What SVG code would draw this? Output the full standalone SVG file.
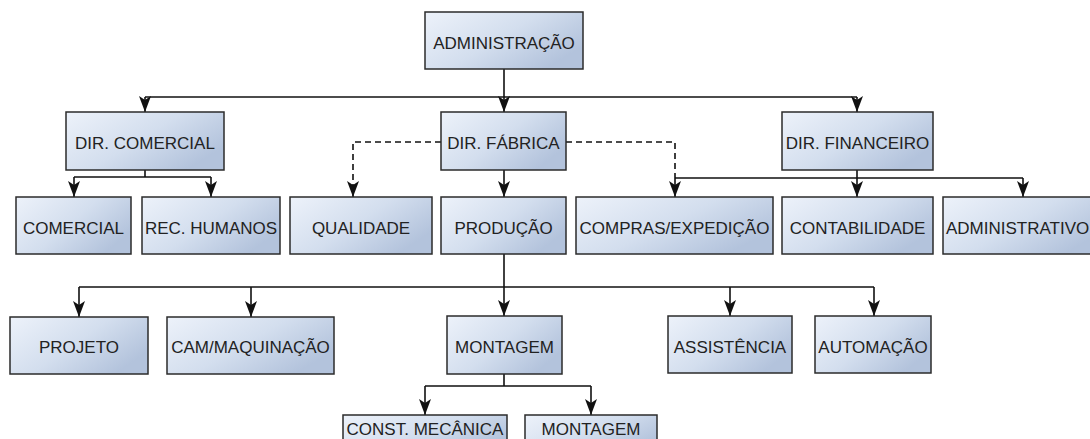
<svg xmlns="http://www.w3.org/2000/svg" width="1090" height="439" viewBox="0 0 1090 439">
  <defs>
    <linearGradient id="boxFill" x1="0" y1="0" x2="1" y2="0.6">
      <stop offset="0" stop-color="#edf2fa"/>
      <stop offset="0.55" stop-color="#d3deee"/>
      <stop offset="1" stop-color="#b3c3dc"/>
    </linearGradient>
    <marker id="arrow" viewBox="0 0 16 12" refX="16" refY="6" markerWidth="16" markerHeight="12" markerUnits="userSpaceOnUse" orient="auto">
      <path d="M0,0 L16,6 L0,12 L4,6 Z" fill="#111"/>
    </marker>
    <style>
      .box { fill: url(#boxFill); stroke: #2b2b2b; stroke-width: 1.5; }
      .lbl { font-family: "Liberation Sans", Arial, sans-serif; font-size: 17px; fill: #222; text-anchor: middle; }
      .edge { fill: none; stroke: #111; stroke-width: 1.6; }
      .dash { stroke-dasharray: 6 4; }
    </style>
  </defs>

  <rect width="1090" height="439" fill="#ffffff"/>

  <!-- connectors -->
  <g id="connectors">
    <!-- Administração to directors -->
    <path class="edge" d="M504,69 V112" marker-end="url(#arrow)"/>
    <path class="edge" d="M145,97 H857"/>
    <path class="edge" d="M145,97 V112" marker-end="url(#arrow)"/>
    <path class="edge" d="M857,97 V112" marker-end="url(#arrow)"/>

    <!-- Dir. Comercial -->
    <path class="edge" d="M145,170 V177 M74,177 H211"/>
    <path class="edge" d="M74,177 V197" marker-end="url(#arrow)"/>
    <path class="edge" d="M211,177 V197" marker-end="url(#arrow)"/>

    <!-- Dir. Fábrica -->
    <path class="edge" d="M504,170 V197" marker-end="url(#arrow)"/>
    <path class="edge dash" d="M441,142 H353 V197" marker-end="url(#arrow)"/>
    <path class="edge dash" d="M566,142 H675 V178"/>

    <!-- Dir. Financeiro -->
    <path class="edge" d="M857,170 V178 M675,178 H1023"/>
    <path class="edge" d="M675,178 V197" marker-end="url(#arrow)"/>
    <path class="edge" d="M857,178 V197" marker-end="url(#arrow)"/>
    <path class="edge" d="M1023,178 V197" marker-end="url(#arrow)"/>

    <!-- Produção -->
    <path class="edge" d="M504,254 V316" marker-end="url(#arrow)"/>
    <path class="edge" d="M79,287 H874"/>
    <path class="edge" d="M79,287 V317" marker-end="url(#arrow)"/>
    <path class="edge" d="M251,287 V317" marker-end="url(#arrow)"/>
    <path class="edge" d="M730,287 V316" marker-end="url(#arrow)"/>
    <path class="edge" d="M874,287 V316" marker-end="url(#arrow)"/>

    <!-- Montagem -->
    <path class="edge" d="M504,374 V386 M425,386 H591"/>
    <path class="edge" d="M425,386 V415" marker-end="url(#arrow)"/>
    <path class="edge" d="M591,386 V415" marker-end="url(#arrow)"/>
  </g>

  <!-- nodes -->
  <g id="administracao"><rect class="box" x="425" y="12" width="158" height="57"/><text class="lbl" x="504" y="48.5">ADMINISTRAÇÃO</text></g>

  <g id="dir-comercial"><rect class="box" x="66" y="112" width="158" height="58"/><text class="lbl" x="145" y="148.5">DIR. COMERCIAL</text></g>
  <g id="dir-fabrica"><rect class="box" x="441" y="112" width="125" height="58"/><text class="lbl" x="503.5" y="148.5">DIR. FÁBRICA</text></g>
  <g id="dir-financeiro"><rect class="box" x="782" y="112" width="151" height="58"/><text class="lbl" x="857.5" y="148.5">DIR. FINANCEIRO</text></g>

  <g id="comercial"><rect class="box" x="16" y="197" width="115" height="57"/><text class="lbl" x="73.5" y="233.5">COMERCIAL</text></g>
  <g id="rec-humanos"><rect class="box" x="142" y="197" width="138" height="57"/><text class="lbl" x="211" y="233.5">REC. HUMANOS</text></g>
  <g id="qualidade"><rect class="box" x="290" y="197" width="142" height="57"/><text class="lbl" x="361" y="233.5">QUALIDADE</text></g>
  <g id="producao"><rect class="box" x="441" y="197" width="125" height="57"/><text class="lbl" x="503.5" y="233.5">PRODUÇÃO</text></g>
  <g id="compras-expedicao"><rect class="box" x="576" y="197" width="197" height="57"/><text class="lbl" x="674.5" y="233.5">COMPRAS/EXPEDIÇÃO</text></g>
  <g id="contabilidade"><rect class="box" x="782" y="197" width="151" height="57"/><text class="lbl" x="857.5" y="233.5">CONTABILIDADE</text></g>
  <g id="administrativo"><rect class="box" x="943" y="197" width="160" height="57"/><text class="lbl" x="946" y="233.5" style="text-anchor:start">ADMINISTRATIVO</text></g>

  <g id="projeto"><rect class="box" x="10" y="317" width="138" height="57"/><text class="lbl" x="79" y="353">PROJETO</text></g>
  <g id="cam-maquinacao"><rect class="box" x="167" y="317" width="167" height="57"/><text class="lbl" x="250.5" y="353">CAM/MAQUINAÇÃO</text></g>
  <g id="montagem"><rect class="box" x="447" y="316" width="115" height="58"/><text class="lbl" x="504.5" y="352.5">MONTAGEM</text></g>
  <g id="assistencia"><rect class="box" x="668" y="316" width="124" height="57"/><text class="lbl" x="730" y="352.5">ASSISTÊNCIA</text></g>
  <g id="automacao"><rect class="box" x="815" y="316" width="116" height="57"/><text class="lbl" x="873" y="352.5">AUTOMAÇÃO</text></g>

  <g id="const-mecanica"><rect class="box" x="343" y="415" width="164" height="40"/><text class="lbl" x="425" y="435">CONST. MECÂNICA</text></g>
  <g id="montagem-2"><rect class="box" x="525" y="415" width="132" height="40"/><text class="lbl" x="591" y="435">MONTAGEM</text></g>
</svg>
